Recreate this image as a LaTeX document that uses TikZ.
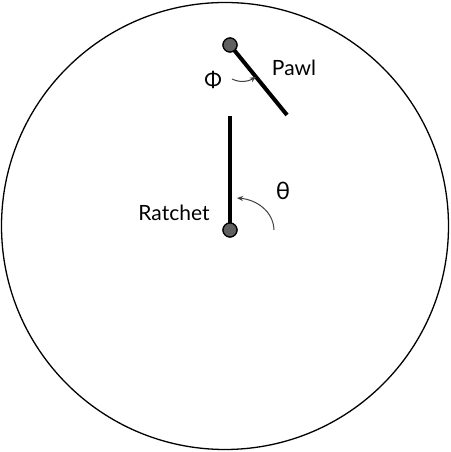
\documentclass[tikz,border=0pt]{standalone}
\usepackage{fontspec}
\setmainfont{Lato}
\usepackage{tikz}
\usetikzlibrary{arrows.meta}
\tikzset{
  >={Stealth[length=6pt,width=5pt]},
  pivot/.style ={circle, draw, fill=gray!75!black, line width=1.2pt,
                 minimum size=14pt, inner sep=0pt},
  rod/.style   ={draw, line width=4pt},
  turn/.style  ={->, draw, line width=1pt, black!75},
  lbl/.style   ={font=\fontsize{21}{24}\selectfont, inner sep=1pt},
  sym/.style   ={font=\fontsize{24}{26}\selectfont, inner sep=1pt},
}
\begin{document}
\begin{tikzpicture}[x=1pt,y=1pt]
\useasboundingbox (0,0) rectangle (450,452);
% outer boundary
\draw[line width=1.3pt] (225,226) circle (223.5);
% ratchet
\coordinate (rtip) at (230,336);
\node[pivot] (rpiv) at (230,222) {};
\draw[rod] (rpiv.center) -- (rtip);
\node[pivot] (rpiv2) at (230,222) {};
\node[lbl] (rlab) at (174,239) {Ratchet};
% pawl
\coordinate (ptip) at (287,337);
\node[pivot] (ppiv) at (230,407) {};
\draw[rod] (ppiv.center) -- (ptip);
\node[pivot] (ppiv2) at (230,407) {};
\node[lbl] (plab) at (294,384) {Pawl};
% angles
\node[sym] (th) at (283,261) {θ};
\coordinate (ths) at (274,222);
\coordinate (the) at (237,254);
\draw[turn] (ths) to[out=92,in=-5] (the);
\node[lbl] (ph) at (213,372) {Φ};
\coordinate (phs) at (232,373);
\coordinate (phe) at (256,375);
\draw[turn] (phs) to[out=-25,in=210] (phe);
\end{tikzpicture}
\end{document}
